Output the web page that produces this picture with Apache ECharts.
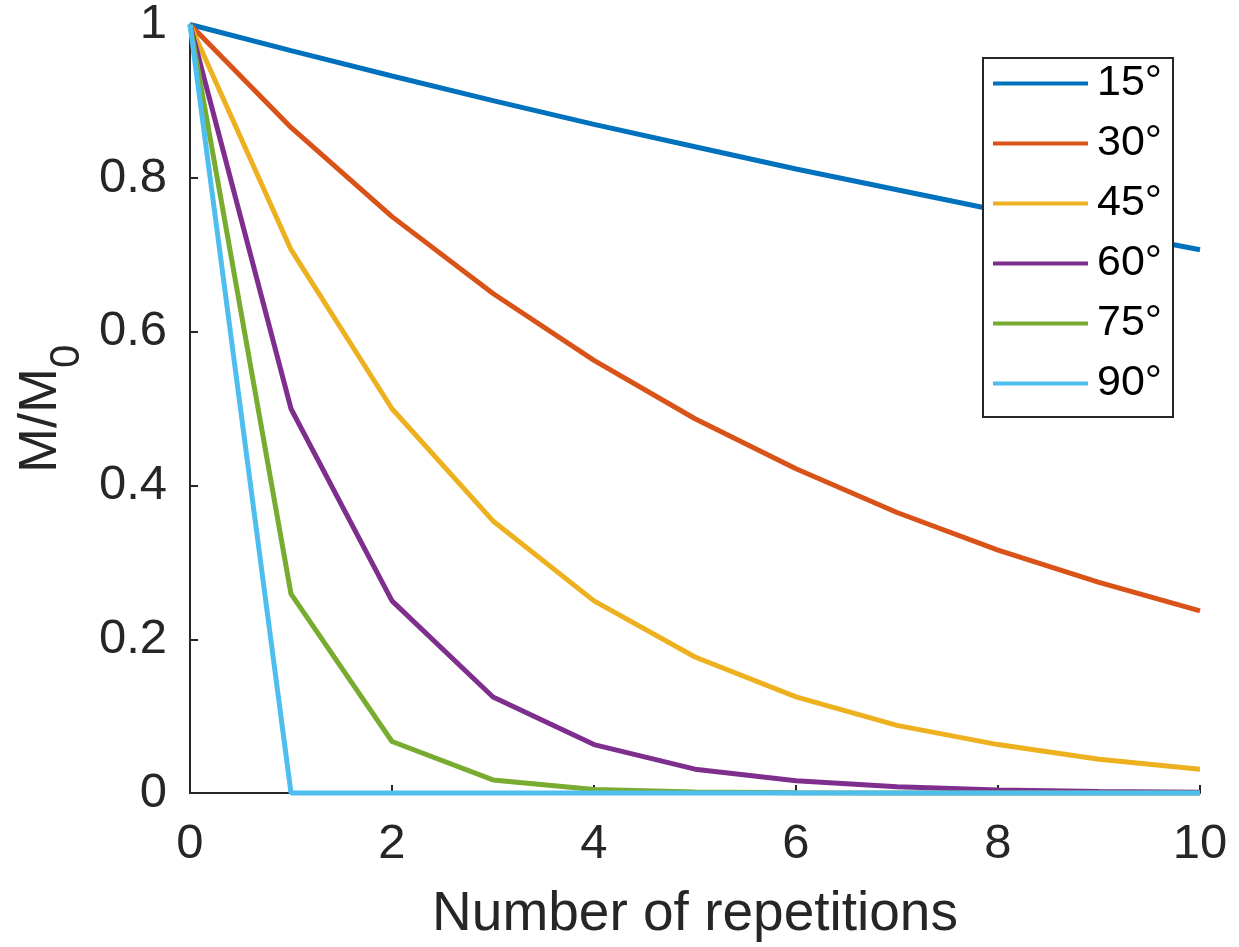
<!DOCTYPE html>
<html>
<head>
<meta charset="utf-8">
<script src="https://cdn.jsdelivr.net/npm/echarts@6/dist/echarts.min.js"></script>
<style>
  html, body { margin: 0; padding: 0; background: #fff; }
  #chart { width: 1239px; height: 947px; }
</style>
</head>
<body>
<div id="chart"></div>
<script>
// repetitions on the x axis
const repetitions = [0, 1, 2, 3, 4, 5, 6, 7, 8, 9, 10];
const angleNames = ['15°', '30°', '45°', '60°', '75°', '90°'];

// M/M0
const deg15 = [1, 0.966, 0.933, 0.901, 0.870, 0.841, 0.812, 0.785, 0.758, 0.732, 0.707];
const deg30 = [1, 0.866, 0.750, 0.650, 0.563, 0.487, 0.422, 0.365, 0.316, 0.274, 0.237];
const deg45 = [1, 0.707, 0.500, 0.354, 0.250, 0.177, 0.125, 0.088, 0.063, 0.044, 0.031];
const deg60 = [1, 0.500, 0.250, 0.125, 0.063, 0.031, 0.016, 0.008, 0.004, 0.002, 0.001];
const deg75 = [1, 0.259, 0.067, 0.017, 0.0045, 0.0012, 0.0003, 0.0001, 0, 0, 0];
const deg90 = [1, 0, 0, 0, 0, 0, 0, 0, 0, 0, 0];

const xTicks = [0, 2, 4, 6, 8, 10];
const yTicks = [0, 0.2, 0.4, 0.6, 0.8, 1];

const colors = ['#0072BD', '#D95319', '#EDB120', '#7E2F8E', '#77AC30', '#4DBEEE'];
const allSeries = [deg15, deg30, deg45, deg60, deg75, deg90];

const axisColor = '#262626';
const font = 'Liberation Sans, Arial, Helvetica, sans-serif';

const chart = echarts.init(document.getElementById('chart'));

const option = {
  animation: false,
  textStyle: { fontFamily: font },
  color: colors,
  grid: { left: 190, top: 22, right: 39, bottom: 154, containLabel: false },
  legend: {
    data: angleNames,
    orient: 'vertical',
    left: 983,
    top: 58,
    icon: 'rect',
    itemWidth: 95,
    itemHeight: 4,
    itemGap: 17,
    padding: [4, 11, 12, 10],
    borderColor: axisColor,
    borderWidth: 2,
    borderRadius: 0,
    backgroundColor: '#fff',
    textStyle: { fontSize: 43, color: '#000', fontFamily: font, padding: [0, 0, 0, 4], lineHeight: 43 }
  },
  xAxis: {
    type: 'value',
    min: 0,
    max: 10,
    interval: 2,
    name: 'Number of repetitions',
    nameLocation: 'middle',
    nameGap: 94,
    nameMoveOverlap: false,
    nameTextStyle: { fontSize: 55, color: axisColor, fontFamily: font },
    axisLine: { show: true, onZero: false, lineStyle: { color: axisColor, width: 2 } },
    axisTick: { show: true, inside: true, length: 8, lineStyle: { color: axisColor, width: 2 } },
    axisLabel: {
      fontSize: 49, color: axisColor, margin: 27,
      formatter: v => xTicks.includes(v) ? String(v) : ''
    },
    splitLine: { show: false }
  },
  yAxis: {
    type: 'value',
    min: 0,
    max: 1,
    interval: 0.2,
    name: '{m|M/M}{sub|0}',
    nameLocation: 'middle',
    nameGap: 122,
    nameMoveOverlap: false,
    nameRotate: 90,
    nameTextStyle: {
      color: axisColor, fontFamily: font,
      rich: {
        m: { fontSize: 54, lineHeight: 54, color: axisColor, fontFamily: font, verticalAlign: 'top' },
        sub: { fontSize: 42, lineHeight: 42, color: axisColor, fontFamily: font, verticalAlign: 'top', padding: [32, 0, 0, 0] }
      }
    },
    axisLine: { show: true, onZero: false, lineStyle: { color: axisColor, width: 2 } },
    axisTick: { show: true, inside: true, length: 8, lineStyle: { color: axisColor, width: 2 } },
    axisLabel: {
      fontSize: 49, color: axisColor, margin: 23,
      formatter: v => {
        const t = yTicks.find(k => Math.abs(k - v) < 1e-9);
        return t === undefined ? '' : String(Number(t.toFixed(1)));
      }
    },
    splitLine: { show: false }
  },
  series: allSeries.map((vals, i) => ({
    name: angleNames[i],
    type: 'line',
    data: repetitions.map((r, j) => [r, vals[j]]),
    showSymbol: false,
    clip: false,
    lineStyle: { width: 5, color: colors[i] },
    itemStyle: { color: colors[i] },
    z: 2 + i
  }))
};

chart.setOption(option);
</script>
</body>
</html>
